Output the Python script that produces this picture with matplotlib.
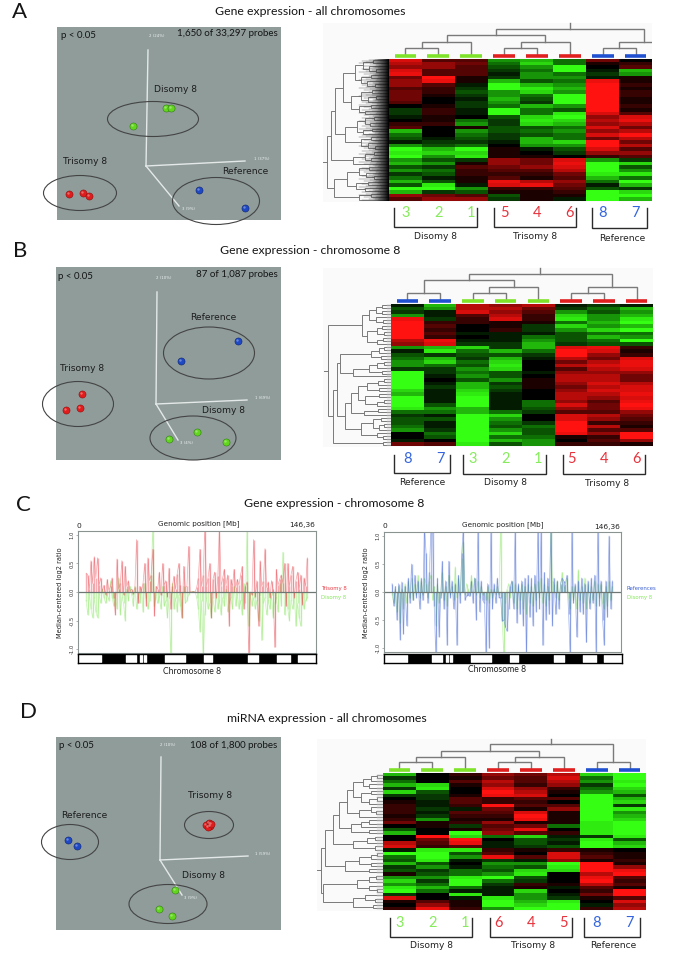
import numpy as np
import matplotlib
matplotlib.use('Agg')
import matplotlib.pyplot as plt
from matplotlib.colors import LinearSegmentedColormap
from matplotlib.patches import Ellipse, Rectangle

W, H = 685, 969

##############################################################################
# Heatmap values, columns left to right, -9 green ... +9 red
##############################################################################

heat_a = [
    [7,3,3,-5,-6,-4,4,0],[6,5,4,-4,-7,-4,1,2],[5,5,3,-3,-5,-9,0,3],[7,3,3,-2,-4,-9,-1,-6],
    [8,3,3,-1,-5,-4,-2,-5],[4,9,1,-2,-5,-5,-1,1],[5,8,1,-6,-3,-4,8,1],[5,3,-1,-9,-6,-5,9,2],
    [3,2,-2,-9,-8,-6,9,1],[4,2,-3,-5,-7,-5,9,2],[4,1,-2,-5,-4,-9,9,2],[4,0,-1,-6,-3,-9,9,1],
    [3,0,-2,-5,-2,-9,9,1],[0,1,-2,-4,-6,-5,9,2],[-2,2,-1,-9,-4,-3,9,1],[-2,2,-1,-9,-4,-8,7,3],
    [-1,1,0,-3,-7,-9,5,7],[0,1,-4,-2,-8,-7,6,8],[2,2,-5,-2,-7,-6,5,6],[3,0,1,-3,-3,-4,7,4],
    [-6,0,-5,-3,-4,-5,5,6],[-4,0,-4,-2,-3,-4,7,9],[-3,-1,-3,-2,-6,-4,4,6],[-1,-2,-2,-1,-6,-7,9,4],
    [-5,-3,-4,0,-5,-5,9,6],[-9,-6,-9,1,-1,-3,7,3],[-8,-7,-7,1,0,-2,5,5],[-9,-5,-8,1,1,0,2,3],
    [-5,-3,-2,5,4,7,-5,-2],[-6,-5,1,5,4,8,-9,-7],[-3,-2,3,4,5,7,-9,-3],[-5,-4,2,3,3,6,-9,-5],
    [-2,-3,2,2,2,4,-8,-8],[-4,-1,1,3,1,3,-6,-4],[-6,-3,1,8,6,5,-4,-9],[-3,-8,-1,7,8,4,-1,-6],
    [-9,-9,-5,2,2,3,-3,-2],[-6,-2,-3,1,1,2,-9,-7],[5,4,3,-3,1,1,-9,-9],[3,5,5,-2,1,-1,-9,-6],
]

heat_b = [
    [-1,-6,6,5,6,-1,-2,-1],[-3,-5,6,6,4,-2,-4,-6],[-2,-1,7,5,3,-5,-3,-5],[-5,-1,3,6,2,-7,-5,-6],
    [8,-2,2,7,2,-8,-5,-8],[9,2,2,1,1,-4,-6,-9],[9,3,0,1,-2,-7,-5,-6],[9,2,0,2,-2,-5,-7,-9],
    [9,3,-1,-1,-1,-3,-4,-4],[9,2,0,-1,-4,-3,-6,-5],[6,8,-1,-1,-5,-3,-4,-9],[5,7,-2,-2,-6,-2,-3,-3],
    [-5,-6,-7,-2,-6,7,8,2],[-1,-8,-4,-6,-4,9,7,1],[-3,-2,-3,-3,-2,9,5,2],[-4,-6,-2,-6,-1,6,4,7],
    [-5,-7,-4,-7,0,4,6,8],[-5,-4,-3,-8,0,6,7,8],[-2,-2,-5,-7,0,3,6,7],[-9,-2,-4,-3,-1,5,5,5],
    [-9,-1,-5,-3,0,6,6,4],[-9,0,-3,-5,1,6,6,4],[-9,-1,-6,-2,1,5,7,6],[-9,-2,-6,-3,1,4,6,7],
    [-7,-1,-7,-2,0,5,7,7],[-6,-1,-8,-1,0,6,6,8],[-9,-1,-9,-1,0,6,5,7],[-9,-1,-9,-1,-4,5,3,8],
    [-9,-3,-9,-1,-4,7,4,9],[-8,-5,-6,-1,-3,5,4,8],[-4,-4,-6,-4,-2,3,3,5],[-2,-1,-9,-7,0,7,6,4],
    [-3,-3,-9,-5,0,7,5,3],[-3,-1,-9,-4,-2,9,2,2],[-4,-1,-9,-3,-4,9,6,1],[-5,-2,-9,-5,-3,9,3,3],
    [0,-4,-9,-7,-3,8,5,9],[0,-3,-9,-4,-4,1,2,9],[-1,0,-9,-6,-5,0,3,5],[4,3,-8,-3,-5,2,2,1],
]

heat_d = [
    [-6,0,2,5,4,6,-7,-9],[-2,0,1,4,3,7,-4,-9],[-4,0,3,6,3,6,-5,-8],[-6,-7,1,5,2,5,-2,-9],
    [-2,-8,0,7,5,2,-4,-7],[-7,-3,0,9,6,1,-5,-6],[-2,-2,1,8,7,0,-9,-3],[0,-2,3,2,3,3,-9,-6],
    [1,-1,3,2,2,0,-9,-7],[2,-1,2,9,3,3,-9,-2],[2,-2,-1,4,1,5,-9,-8],[2,-1,3,3,7,1,-9,-5],
    [1,-2,2,2,9,1,-9,-6],[2,-5,1,1,8,1,-9,-7],[4,1,2,5,1,1,-8,-9],[0,1,-2,3,4,-4,-8,-9],
    [-3,0,1,4,8,0,-8,-9],[-6,0,-9,5,3,2,-8,-9],[0,9,-7,-4,-7,-1,-2,-8],[0,4,9,0,-3,-2,-8,-3],
    [6,3,8,-1,-3,-1,-9,-6],[7,2,3,-1,-2,-3,-9,-7],[-1,-8,-8,2,1,2,1,0],[-9,-9,-3,3,0,7,2,1],
    [-4,-9,-5,8,3,7,3,1],[-3,-8,-1,-2,-1,5,1,2],[-6,-3,0,-5,-5,-9,9,1],[-2,-5,-1,-4,-3,-8,9,5],
    [-3,-2,-4,-3,-7,-7,9,8],[1,-3,-4,-5,-8,0,6,9],[-5,-5,-8,-9,-3,0,8,3],[-7,-2,-9,-4,-2,0,9,2],
    [-5,-4,-9,-2,2,1,6,3],[-8,-6,-4,-1,1,-1,3,1],[-9,-4,-1,-1,-7,0,2,9],[-2,0,-8,-1,-5,-1,4,9],
    [7,0,-1,-8,-5,-2,1,3],[1,3,1,-9,-6,-8,0,7],[0,5,1,-9,-7,-9,-1,5],[2,8,2,-5,-9,-9,2,6],
]

##############################################################################
# Sample labels per column
##############################################################################

samples_a = ['3', '2', '1', '5', '4', '6', '8', '7']
groups_a = ['g', 'g', 'g', 'r', 'r', 'r', 'b', 'b']
samples_b = ['8', '7', '3', '2', '1', '5', '4', '6']
groups_b = ['b', 'b', 'g', 'g', 'g', 'r', 'r', 'r']
samples_d = ['3', '2', '1', '6', '4', '5', '8', '7']
groups_d = ['g', 'g', 'g', 'r', 'r', 'r', 'b', 'b']

##############################################################################
# Dendrograms, node = (height, child, child), leaf = 0
##############################################################################

L = 0

col_tree_a = (27, (21, (14, (8, L, L), L), (14, (8, L, L), L)), (14, (8, L, L), L))
col_tree_b = (27, (21, (8, L, L), (14, (8, L, L), L)), (14, (8, L, L), L))
col_tree_d = (26, (19, (13, (8, L, L), L), (13, (8, L, L), L)), (8, L, L))

row_tree_a = (62,
    (58,
        (54,
            (46,
                (34, (26, (16, L, L), (20, L, (13, L, L))), (28, (18, L, L), (22, L, (14, L, L)))),
                (38, (28, (17, L, L), (21, (13, L, L), L)), (30, (18, L, L), (24, L, L)))),
            (44,
                (32, (24, (15, L, L), (19, L, L)), (26, (17, L, L), L)),
                (28, (18, L, L), (21, L, (14, L, L))))),
        (36, (24, (15, L, L), (18, L, L)), L)),
    (55,
        (42, (30, (20, L, L), (23, L, (15, L, L))), (33, (21, L, L), (24, L, L))),
        (30, (18, L, L), L)))

row_tree_b = (63,
    (29,
        (22, (15, (9, L, L), (9, L, L)), (15, L, (8, L, L))),
        (24, (14, (9, L, L), (7, L, L)), (14, (8, L, L), L))),
    (58,
        (54,
            (51, (20, (12, (7, L, L), L), (10, L, L)), (38, (22, (14, (7, L, L), L), (9, L, L)), L)),
            (46,
                (40, (33, (24, (13, (7, L, L), L), (12, L, L)), (26, (12, L, L), (14, (7, L, L), L))),
                     (27, (13, L, L), L)),
                (30, (18, (10, L, L), (12, (7, L, L), L)), (14, L, (8, L, L))))),
        (8, L, L)))

row_tree_d = (62,
    (58,
        (50,
            (44,
                (36, (30, (20, (12, (6, L, L), L), (14, L, L)), (22, (12, L, L), (14, (6, L, L), L))),
                     (24, (12, L, (7, L, L)), L)),
                (32, (22, (14, L, L), L), (14, L, L))),
            (30, (16, (8, L, L), L), (8, L, L))),
        (38, (24, (12, (6, L, L), L), (12, L, L)), (14, L, L))),
    (60,
        (26, (14, (7, L, L), L), (14, L, (6, L, L))),
        (30, (18, L, (8, L, L)), (10, L, L))))

##############################################################################
# PCA points, read in picture pixels of each panel
##############################################################################

pca_a_green = ([133, 166, 171], [126, 108, 108])
pca_a_red = ([69, 83, 89], [194, 193, 196])
pca_a_blue = ([199, 245], [190, 208])

pca_b_green = ([169, 197, 226], [439, 432, 442])
pca_b_red = ([82, 80, 66], [394, 408, 410])
pca_b_blue = ([238, 181], [341, 361])

pca_d_green = ([175, 159, 172], [890, 909, 916])
pca_d_red = ([206, 209, 210, 208, 211], [825, 823, 826, 827, 824])
pca_d_blue = ([68, 77], [840, 846])

##############################################################################
# Log2 ratio traces, one value per Mb from 5 to 141
##############################################################################

trisomy_c = [
    .33,.30,.05,.55,.15,.62,.25,.60,.12,.25,
    .02,.12,-.05,.22,.03,.10,.25,-.10,-.40,.58,
    .05,.15,.55,-.05,.45,.10,.20,.02,.05,-.03,
    .08,.92,-.20,.10,.02,.15,.50,-.25,.60,.20,
    .30,.75,-.42,.10,.05,.35,-.05,.50,.12,.20,
    -.08,.42,-.30,.10,.28,.05,.32,.50,.12,-.45,
    .45,.08,.10,.80,.00,.00,.01,.00,.08,.25,
    .75,.10,.30,1.15,.10,.25,.50,-.45,.22,.35,
    -.10,.28,1.15,.10,.25,.40,.12,.30,-.60,.22,
    .10,.40,.08,.22,.12,.30,.45,-.30,.10,.18,
    -1.15,.00,-.05,.92,-.08,.20,-.60,.55,.10,.20,
    .76,.08,.18,-.10,.20,.05,-.97,.40,.12,.22,
    .30,.15,.50,-.25,.50,.10,.30,.45,-.10,.20,
    .35,.05,.30,-.22,.25,.10,.60,
]

disomy_c = [
    -.15,-.40,-.05,-.30,-.45,-.10,-.35,-.45,-.05,-.20,
    .05,-.10,-.20,-.05,-.15,.20,-.10,-.25,-.05,-.30,
    .25,-.40,-.10,-.20,-.50,.05,-.15,.10,-.05,-.25,
    .10,-.30,-.05,-.20,.08,-.35,.15,-.10,-.30,-.15,
    .30,1.15,-.25,-.05,-.20,-.08,-.30,.10,-.25,-.15,
    -.45,-.10,-1.15,.15,-.30,-.10,-.35,-.05,-.25,-.45,
    .10,-.20,-.15,-.05,.00,.01,.00,.00,-.10,-.30,
    -.70,-.15,-1.15,-.40,-.10,-.30,-.20,-.45,-.10,-.35,
    -.05,-.30,-.15,-.40,-.10,-.25,.05,-.35,-.20,-.10,
    -.30,.10,-.25,-.05,-.30,-.15,-.40,.15,-.20,1.15,
    -.60,-.05,-.25,-.10,-.30,-.15,-.50,-.05,-.85,-.20,
    -.10,-.40,-.15,-.30,-.05,-.45,-.20,-.10,-.35,.15,
    -.25,.70,-.40,-.10,-.30,-.50,-.15,-.30,-.05,-.60,
    -.20,-.45,-.60,-.10,-.30,-.15,-.10,
]

references_c = [
    .15,-.25,.10,-.50,.15,-.85,.18,-.75,.10,-.60,
    .25,-.20,.50,-.15,.30,-.10,.20,-.30,.25,-.15,
    1.15,.70,-.20,.35,1.15,1.15,-.25,-1.15,.25,-.80,
    -.10,.55,-.30,.20,-.95,.55,-.10,.20,-.30,.15,
    -.95,.30,-.20,.70,1.15,-.15,-.07,-.05,-.08,.20,
    -.20,.25,-.50,1.15,-.35,.20,-.15,-.20,-1.15,.15,
    -1.00,1.15,-.30,.15,-.20,.25,-.10,-.10,-.52,-.50,
    -.62,-.70,-.30,.10,.20,-.30,1.15,-.55,.15,-.40,
    .20,-.60,.25,-1.10,.30,-.45,.25,-.60,.30,-.35,
    1.15,-.30,1.15,-.95,.35,-.50,.25,-.40,1.10,-.60,
    .25,-.40,.20,-.30,.15,.25,.20,.15,.30,-.40,
    -1.15,1.15,-.20,.15,-.80,.20,-.35,.25,-.40,.15,
    -.90,.20,-.30,.25,-.20,.30,-1.10,1.15,-.25,.20,
    -.50,-.95,.20,-.45,1.00,-.30,.20,
]

disomy_right_c = [
    -.05,-.20,.05,-.35,.10,-.55,.05,-.30,.15,-.20,
    .20,-.10,.25,-.15,.15,-.05,.30,-.10,.20,-.05,
    .25,.15,-.10,.20,.30,-.15,.10,-.60,.15,-.20,
    -.05,.35,-.15,.10,-.25,.30,-.05,.10,-.15,.45,
    -.10,.25,-.05,.60,.90,-.05,.15,.05,-.05,.30,
    .05,.25,-.05,.20,-.10,.10,-.05,.00,-.15,.10,
    -.20,.05,-.10,.05,-.05,.10,-.05,1.15,-.50,-1.15,
    -.20,.05,.15,-.10,.20,-.20,.15,-.30,.10,-.15,
    .15,-.30,.10,-.40,.15,-.20,.10,-.25,.15,-.15,
    .20,-.10,.25,-.20,.15,-.25,.10,-.15,1.15,.20,
    .15,-.10,.20,-.15,.10,.35,.10,.05,.25,-.10,
    -.30,.10,-.15,.10,-.30,.40,-.15,.10,-.20,.25,
    -.30,.15,-.20,.10,-.15,.20,-.25,.15,-.10,.15,
    -.20,-.30,.10,-.25,.20,-.15,.10,
]

positions_mb = list(range(5, 142))
chrom_len = 146.36

# white bands of chromosome 8, Mb
white_start = [0.6, 30.0, 38.2, 40.6, 54.0, 77.6, 104.7, 122.8, 135.7]
white_end = [14.4, 36.0, 39.6, 41.9, 66.3, 82.9, 111.0, 130.6, 146.36]

ratio_ticks = [1.0, 0.5, 0.0, -0.5, -1.0]

##############################################################################

group_col = {'g': '#7fe32a', 'r': '#e01f1f', 'b': '#2050cf'}
num_col = {'g': '#86ec5c', 'r': '#e8323c', 'b': '#3565de'}
pca_bg = '#8f9c9a'
black_green = LinearSegmentedColormap.from_list(
    'gr', [(0, '#35ff12'), (0.12, '#2bd40e'), (0.28, '#0e6e05'), (0.5, '#000000'),
           (0.72, '#6e0605'), (0.88, '#d40e0c'), (1, '#ff1210')])
TITLE_FONT = 'Lato'
LABEL_FONT = 'DejaVu Sans'

fig = plt.figure(figsize=(W / 100, H / 100), dpi=100)


def px_axes(x0, y0, x1, y1, **kw):
    # axes placed with picture pixels, y from the top
    return fig.add_axes([x0 / W, 1 - y1 / H, (x1 - x0) / W, (y1 - y0) / H], **kw)


under = px_axes(0, 0, W, H)
under.set_xlim(0, W)
under.set_ylim(H, 0)
under.axis('off')
under.set_zorder(-5)

over = px_axes(0, 0, W, H)
over.set_xlim(0, W)
over.set_ylim(H, 0)
over.axis('off')
over.set_zorder(10)


def count_leaves(node):
    if node == 0:
        return 1
    return count_leaves(node[1]) + count_leaves(node[2])


def draw_tree(ax, node, horizontal, next_leaf):
    # returns position and height of a node, leaves are taken in order
    if node == 0:
        pos = next_leaf[0]
        next_leaf[0] += 1
        return pos, 0
    h, a, b = node
    pa, ha = draw_tree(ax, a, horizontal, next_leaf)
    pb, hb = draw_tree(ax, b, horizontal, next_leaf)
    if horizontal:
        ax.plot([ha, h, h, hb], [pa, pa, pb, pb], color='#7a7a7a', lw=0.7, solid_joinstyle='miter')
    else:
        ax.plot([pa, pa, pb, pb], [ha, h, h, hb], color='#7a7a7a', lw=1.0, solid_joinstyle='miter')
    return (pa + pb) / 2, h


def heat_panel(rect, heat, samples, groups, col_tree, row_tree, bar_y, stem, hi, num_y,
               brackets, fan=False, tick_w=4, box=None):
    x0, y0, x1, y1 = rect
    if box is not None:
        under.add_patch(Rectangle((box[0], box[1]), box[2] - box[0], box[3] - box[1],
                                  fc='#fafafa', ec='none'))
    ax = px_axes(x0, y0, x1, y1)
    ax.imshow(np.array(heat), cmap=black_green, vmin=-9, vmax=9, aspect='auto',
              interpolation='nearest', extent=(0, 8, len(heat), 0))
    ax.axis('off')

    # column tree
    top = px_axes(x0, bar_y - hi - 2, x1, bar_y)
    top.set_xlim(0, 8)
    top.set_ylim(0, hi + 2)
    top.axis('off')
    pos, h = draw_tree(top, col_tree, False, [0.5])
    top.plot([pos, pos], [h, stem], color='#7a7a7a', lw=1.0, clip_on=False)
    for i, g in enumerate(groups):
        top.plot([i + 0.17, i + 0.83], [0, 0], color=group_col[g], lw=2.6,
                 solid_capstyle='butt', clip_on=False)

    # row tree
    root_h = row_tree[0]
    left = px_axes(x0 - root_h - 5, y0, x0, y1)
    left.set_xlim(root_h + 5, 0)
    n = count_leaves(row_tree)
    left.set_ylim(n, 0)
    left.axis('off')
    pos, h = draw_tree(left, row_tree, True, [0.5])
    left.plot([h, h + 4], [pos, pos], color='#7a7a7a', lw=0.7)
    if fan:
        # the 1,650 probes melt into a black comb
        lens = [14, 20, 11, 27, 9, 17, 23, 12, 30, 8, 19, 13, 25, 10, 16]
        ys = np.linspace(0, n, 260)
        for i, yy in enumerate(ys):
            left.plot([lens[i % len(lens)], 0], [yy, yy], color='#3a3a3a', lw=0.35, alpha=0.7)
        rgba = np.zeros((1, 40, 4))
        rgba[0, :, 3] = np.linspace(0, 1, 40) ** 1.5
        left.imshow(rgba, aspect='auto', extent=(18, 0, n, 0), zorder=5)
        left.set_xlim(root_h + 5, 0)
        left.set_ylim(n, 0)
    else:
        for i in range(n):
            left.plot([tick_w, 0], [i + 0.5, i + 0.5], color='#9a9a9a', lw=1.0)

    # numbers and brackets
    cw = (x1 - x0) / 8
    for i, (s, g) in enumerate(zip(samples, groups)):
        over.text(x0 + cw * (i + 0.5), num_y, s, color=num_col[g], ha='center', va='center',
                  fontsize=10.5, family=TITLE_FONT)
    for bx0, bx1, by0, by1, name, lx, ly in brackets:
        over.plot([bx0, bx0, bx1, bx1], [by0, by1, by1, by0], color='#2b2b2b', lw=1.0,
                  solid_joinstyle='miter')
        over.text(lx, ly, name, ha='center', va='center', fontsize=6.6, family=LABEL_FONT,
                  color='#222222')


def pca_panel(rect, green, red, blue, axes_xy, axis_labels, p_xy, probes, probes_xy, names, ellipses):
    x0, y0, x1, y1 = rect
    ax = px_axes(x0, y0, x1, y1)
    ax.set_xlim(x0, x1)
    ax.set_ylim(y1, y0)
    ax.set_facecolor(pca_bg)
    ax.set_xticks([])
    ax.set_yticks([])
    for s in ax.spines.values():
        s.set_visible(False)

    o = axes_xy[0]
    for end in axes_xy[1:]:
        ax.plot([o[0], end[0]], [o[1], end[1]], color='#e4e9e8', lw=1.0)
    for (tx, ty, t) in axis_labels:
        ax.text(tx, ty, t, color='#eef2f1', fontsize=2.8, ha='center', va='center')

    for (xs, ys), c, dark in [(green, '#63d71e', '#2f7f10'), (red, '#e01c1c', '#8d1010'),
                              (blue, '#1f48c4', '#0f2570')]:
        ax.scatter(xs, ys, s=26, color=c, edgecolors=dark, linewidths=0.4, zorder=3)
        ax.scatter(np.array(xs) - 0.7, np.array(ys) - 0.8, s=3, color='white', alpha=0.35,
                   linewidths=0, zorder=4)

    ax.text(p_xy[0], p_xy[1], 'p < 0.05', ha='left', va='center', fontsize=7.0, family=TITLE_FONT,
            color='#151515')
    ax.text(probes_xy[0], probes_xy[1], probes, ha='right', va='center', fontsize=7.0,
            family=TITLE_FONT, color='#151515')

    for (cx, cy, w, h) in ellipses:
        over.add_patch(Ellipse((cx, cy), w, h, fc='none', ec='#444444', lw=0.8))
    for (t, tx, ty) in names:
        ax.text(tx, ty, t, ha='center', va='center', fontsize=6.6, family=LABEL_FONT, color='#1d1d1d')


def trace_panel(rect, main, green, main_col, main_name, green_name, title_x, ideo_rect,
                chrom_xy, ylabel_x, legend_x):
    x0, y0, x1, y1 = rect
    ax = px_axes(x0, y0, x1, y1)
    ax.set_xlim(0, chrom_len)
    ax.set_ylim(-1.07, 1.07)
    ax.vlines(positions_mb, 0, green, color='#8fe868', lw=1.0, alpha=0.45)
    ax.plot(positions_mb, green, color='#8fe868', lw=0.5, alpha=0.5)
    ax.vlines(positions_mb, 0, main, color=main_col, lw=1.0, alpha=0.42)
    ax.plot(positions_mb, main, color=main_col, lw=0.5, alpha=0.45)
    ax.axhline(0, color='#6f7775', lw=0.9)
    ax.set_xticks([])
    ax.set_yticks(ratio_ticks)
    ax.set_yticklabels(['%.1f' % v for v in ratio_ticks], rotation=90, va='center', fontsize=3.8,
                       color='#333333')
    ax.tick_params(axis='y', length=1.5, width=0.4, pad=1, color='#777777')
    for s in ax.spines.values():
        s.set_color('#8b9392')
        s.set_linewidth(0.8)

    over.text(ylabel_x, (y0 + y1) / 2 + 1, 'Median-centered log2 ratio', rotation=90, ha='center',
              va='center', fontsize=4.8, color='#222222')
    over.text(title_x, y0 - 7.5, 'Genomic position [Mb]', ha='center', va='center', fontsize=5.2,
              color='#222222')
    over.text(x0 + 1, y0 - 5.5, '0', ha='center', va='center', fontsize=5.4, color='#222222')
    over.text(x1 - 1, y0 - 5.5, '146,36', ha='right', va='center', fontsize=5.4, color='#222222')
    over.text(legend_x, 588.5, main_name, color=main_col, fontsize=3.9, ha='left', va='center')
    over.text(legend_x, 597.5, green_name, color='#86e85c', fontsize=3.9, ha='left', va='center')

    ideo = px_axes(*ideo_rect)
    ideo.set_xlim(0, chrom_len)
    ideo.set_ylim(0, 1)
    ideo.set_facecolor('black')
    ideo.broken_barh([(s, e - s) for s, e in zip(white_start, white_end)], (0.14, 0.72), color='white')
    ideo.set_xticks([])
    ideo.set_yticks([])
    for s in ideo.spines.values():
        s.set_linewidth(1.0)
    over.text(chrom_xy[0], chrom_xy[1], 'Chromosome 8', ha='center', va='center', fontsize=6.2,
              family=TITLE_FONT, color='#222222')


##############################################################################
# Panel letters and titles
##############################################################################

for t, x, y in [('A', 20, 12), ('B', 20, 251), ('C', 23, 505), ('D', 29, 712)]:
    over.text(x, y, t, ha='center', va='center', fontsize=16, family=TITLE_FONT, color='#151515')

for t, x, y in [('Gene expression - all chromosomes', 310, 11),
                ('Gene expression - chromosome 8', 310, 250),
                ('Gene expression - chromosome 8', 334, 503),
                ('miRNA expression - all chromosomes', 327, 718)]:
    over.text(x, y, t, ha='center', va='center', fontsize=8.8, family=TITLE_FONT, color='#151515')

##############################################################################
# A
##############################################################################

pca_panel((57, 27, 281, 220), pca_a_green, pca_a_red, pca_a_blue,
          [(146, 166), (148, 50), (245, 161), (179, 206)],
          [(157, 36, '2 (24%)'), (262, 159, '1 (37%)'), (189, 209, '3 (9%)')],
          (61, 35), '1,650 of 33,297 probes', (278, 34),
          [('Disomy 8', 175, 89), ('Trisomy 8', 85, 162), ('Reference', 245, 171)],
          [(153, 119, 91, 35), (80, 193, 73, 35), (216, 201, 87, 47)])

heat_panel((389, 59, 652, 201), heat_a, samples_a, groups_a, col_tree_a, row_tree_a, 56, 33, 33, 213,
           [(394, 477, 208, 227, 'Disomy 8', 436, 236), (494, 576, 208, 227, 'Trisomy 8', 535, 236),
            (592, 647, 208, 228, 'Reference', 622, 238)],
           fan=True, box=(323, 23, 652, 202))

##############################################################################
# B
##############################################################################

pca_panel((55.5, 267, 281, 460), pca_b_green, pca_b_red, pca_b_blue,
          [(156, 404), (157, 292), (247, 400), (178, 440)],
          [(164, 278, '2 (10%)'), (263, 398, '1 (69%)'), (187, 443, '3 (4%)')],
          (58, 276), '87 of 1,087 probes', (278, 274),
          [('Reference', 213, 317), ('Trisomy 8', 82, 368), ('Disomy 8', 224, 410)],
          [(209, 353, 91, 52), (78, 404, 71, 45), (193, 438, 86, 44)])

heat_panel((391, 304, 653, 446), heat_b, samples_b, groups_b, col_tree_b, row_tree_b, 301, 33, 33, 459,
           [(394, 450, 455, 473, 'Reference', 422, 482), (463, 546, 455, 474, 'Disomy 8', 506, 482),
            (563, 645, 455, 474, 'Trisomy 8', 607, 483)],
           box=(323, 268, 653, 447))

##############################################################################
# C
##############################################################################

trace_panel((78, 531, 316, 653), trisomy_c, disomy_c, '#e8404a', 'Trisomy 8', 'Disomy 8', 199,
            (77.5, 654, 315.5, 663), (192, 671), 60, 321)
trace_panel((384, 532, 621, 652), references_c, disomy_right_c, '#3f63d2', 'References', 'Disomy 8', 503,
            (383.5, 654, 621.5, 663), (497, 670), 366, 627)

##############################################################################
# D
##############################################################################

pca_panel((55.5, 737, 281, 930), pca_d_green, pca_d_red, pca_d_blue,
          [(160, 860), (161, 757), (248, 856), (182, 895)],
          [(168, 745, '2 (10%)'), (263, 854, '1 (59%)'), (190, 898, '3 (9%)')],
          (59, 746), '108 of 1,800 probes', (277, 745),
          [('Trisomy 8', 210, 795), ('Reference', 84, 815), ('Disomy 8', 203, 875)],
          [(209, 825, 49, 27), (70, 842, 57, 35), (168, 904, 78, 39)])

heat_panel((383, 773, 646, 910), heat_d, samples_d, groups_d, col_tree_d, row_tree_d, 770, 31, 31, 923,
           [(390, 472, 918, 937, 'Disomy 8', 432, 946), (490, 572, 918, 937, 'Trisomy 8', 533, 946),
            (584, 640, 918, 937, 'Reference', 613, 946)],
           tick_w=6, box=(317, 739, 646, 911))

fig.savefig('out.png', dpi=100)
